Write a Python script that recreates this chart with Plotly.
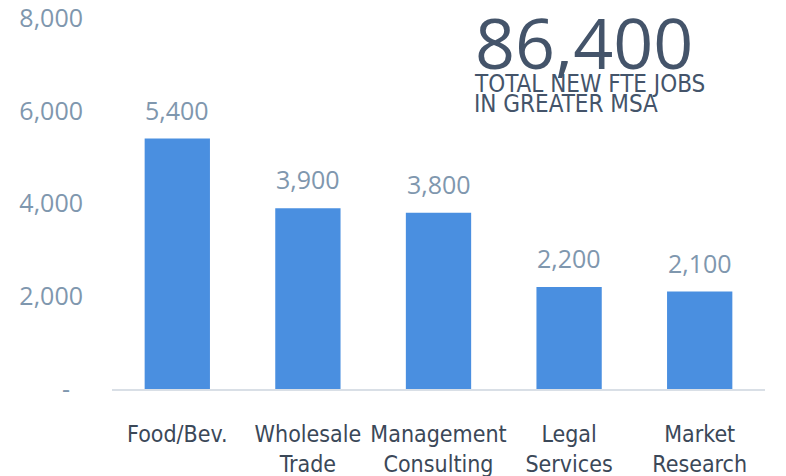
import plotly.graph_objects as go

categories = ["Food/Bev.", "Wholesale<br>Trade", "Management<br>Consulting",
              "Legal<br>Services", "Market<br>Research"]
jobs = [5400, 3900, 3800, 2200, 2100]
y_ticks = [0, 2000, 4000, 6000, 8000]
y_tick_text = ["-\u00a0\u00a0", "2,000", "4,000", "6,000", "8,000"]
total_jobs = "86,400"
total_caption = ["TOTAL NEW FTE JOBS", "IN GREATER MSA"]

BAR = "#4a8fe0"
NUM = "#7f97ae"
DARK = "#3b4858"

fig = go.Figure()
fig.add_trace(go.Bar(
    x=categories, y=jobs,
    marker=dict(color=BAR, line=dict(width=0)),
    width=0.5,
    hoverinfo="skip",
))

# value labels above bars
for c, v in zip(categories, jobs):
    fig.add_annotation(
        x=c, y=v, xref="x", yref="y",
        text=f"{v:,}", showarrow=False,
        yanchor="bottom", yshift=10,
        font=dict(family="Open Sans", size=25, color=NUM),
    )

# headline number + caption (paper coords, plot area is 653x371)
fig.add_annotation(
    x=0.553, y=1.07, xref="paper", yref="paper",
    text=total_jobs, showarrow=False,
    xanchor="left", yanchor="top",
    font=dict(family="Open Sans", size=70, color="#44546a"),
)
fig.add_annotation(
    x=0.552, y=0.865, xref="paper", yref="paper",
    text=total_caption[0], showarrow=False,
    xanchor="left", yanchor="top",
    font=dict(family="DejaVu Sans Condensed", size=24, color="#44546a"),
)
fig.add_annotation(
    x=0.552, y=0.811, xref="paper", yref="paper",
    text=total_caption[1], showarrow=False,
    xanchor="left", yanchor="top",
    font=dict(family="DejaVu Sans Condensed", size=24, color="#44546a"),
)

# page body has an 8px margin, so the figure is 8px smaller than the window
fig.update_layout(
    width=778, height=468,
    margin=dict(l=104, r=21, t=10, b=87),
    plot_bgcolor="white", paper_bgcolor="white",
    showlegend=False,
    bargap=0.5,
)
fig.update_xaxes(
    showgrid=False, showline=True, linecolor="#d9dfe6", linewidth=2,
    ticks="", ticklabelstandoff=23, automargin=False,
    tickfont=dict(family="DejaVu Sans Condensed", size=23, color=DARK),
)
fig.update_yaxes(
    range=[0, 8001], showgrid=False, zeroline=False, showline=False,
    tickvals=y_ticks, ticktext=y_tick_text, ticks="",
    ticklabelstandoff=28, automargin=False, ticklabeloverflow="allow",
    tickfont=dict(family="Open Sans", size=25, color=NUM),
)

fig.write_html("out.html")
